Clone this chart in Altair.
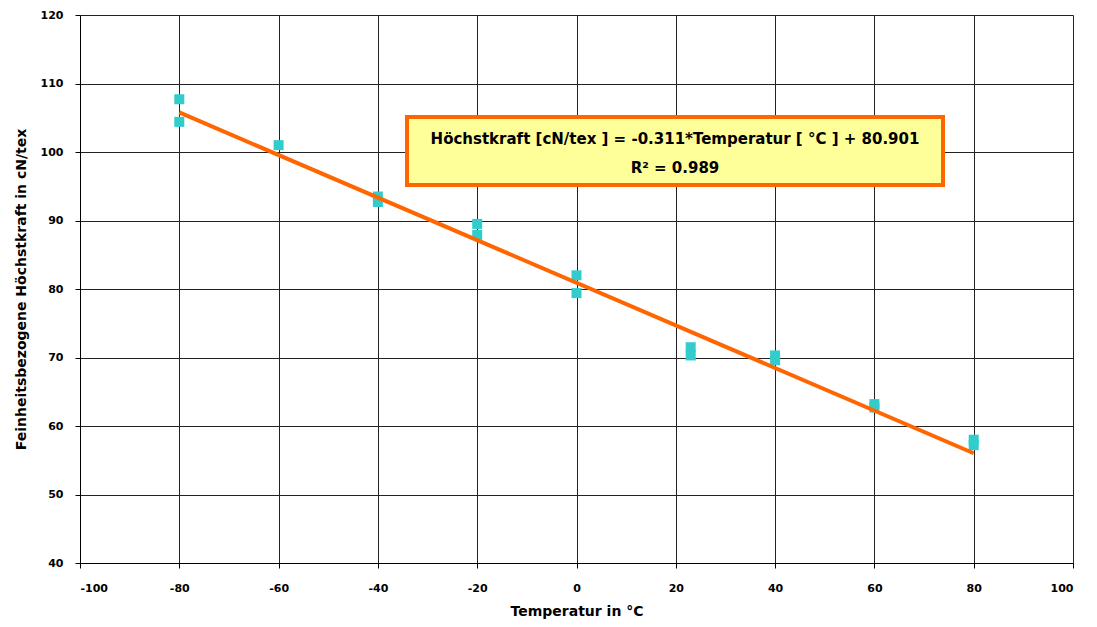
import altair as alt
import pandas as pd

# measured points
temps = [-80, -80, -60, -40, -40, -20, -20, 0, 0, 23, 23, 40, 40, 60, 60, 80, 80]
forces = [107.7, 104.4, 101.0, 93.5, 92.7, 89.5, 87.9, 82.0, 79.4, 71.5, 70.3, 70.3, 69.6, 63.2, 62.7, 58.0, 57.2]

# regression line endpoints (from equation)
fit_x = [-80, 80]
slope = -0.311
intercept = 80.901
fit_y = [slope * v + intercept for v in fit_x]

eq_line1 = "Höchstkraft [cN/tex ] = -0.311*Temperatur [ °C ] + 80.901"
eq_line2 = "R² = 0.989"

x_ticks = list(range(-100, 101, 20))
y_ticks = list(range(40, 121, 10))

pts = pd.DataFrame({"t": temps, "f": forces})
fit = pd.DataFrame({"t": fit_x, "f": fit_y})

FONT = "DejaVu Sans"

xscale = alt.Scale(domain=[-100, 100], nice=False, zero=False)
yscale = alt.Scale(domain=[40, 120], nice=False, zero=False)

xaxis = alt.Axis(values=x_ticks, title="Temperatur in °C", grid=True, gridColor="#222222",
                 gridWidth=1, domainColor="#000000", tickColor="#000000", tickSize=5,
                 labelExpr="'' + datum.value",
                 labelFont=FONT, labelFontWeight="bold", labelFontSize=11, labelPadding=14,
                 titleFont=FONT, titleFontWeight="bold", titleFontSize=14, titlePadding=11,
                 labelColor="#000000", titleColor="#000000")
yaxis = alt.Axis(values=y_ticks, title="Feinheitsbezogene Höchstkraft in cN/tex", grid=True,
                 gridColor="#222222", gridWidth=1, domainColor="#000000", tickColor="#000000",
                 tickSize=5, labelFont=FONT, labelFontWeight="bold", labelFontSize=11,
                 labelPadding=12, titleFont=FONT, titleFontWeight="bold", titleFontSize=14,
                 titlePadding=12, labelColor="#000000", titleColor="#000000")

points = alt.Chart(pts).mark_square(size=100, color="#33CCCC", opacity=1).encode(
    x=alt.X("t:Q", scale=xscale, axis=xaxis),
    y=alt.Y("f:Q", scale=yscale, axis=yaxis),
)

line = alt.Chart(fit).mark_line(color="#FF6600", strokeWidth=4).encode(
    x=alt.X("t:Q", scale=xscale),
    y=alt.Y("f:Q", scale=yscale),
)

box = alt.Chart(pd.DataFrame({"a": [0]})).mark_rect(
    fill="#FFFF99", stroke="#FF6600", strokeWidth=4
).encode(x=alt.value(327), x2=alt.value(863), y=alt.value(102), y2=alt.value(170))

txt1 = alt.Chart(pd.DataFrame({"s": [eq_line1]})).mark_text(
    font=FONT, fontWeight="bold", fontSize=15, color="#000000", align="center", baseline="middle"
).encode(x=alt.value(595), y=alt.value(124), text="s:N")

txt2 = alt.Chart(pd.DataFrame({"s": [eq_line2]})).mark_text(
    font=FONT, fontWeight="bold", fontSize=15, color="#000000", align="center", baseline="middle"
).encode(x=alt.value(595), y=alt.value(153), text="s:N")

chart = alt.layer(points, line, box, txt1, txt2).properties(
    width=993, height=548,
    autosize=alt.AutoSizeParams(type="none"),
    padding={"left": 72, "top": 7, "right": 16, "bottom": 56},
).configure_view(stroke="#000000", strokeWidth=1).configure(background="#FFFFFF")

chart.save("out.html", embed_options={"renderer": "svg", "actions": False})
